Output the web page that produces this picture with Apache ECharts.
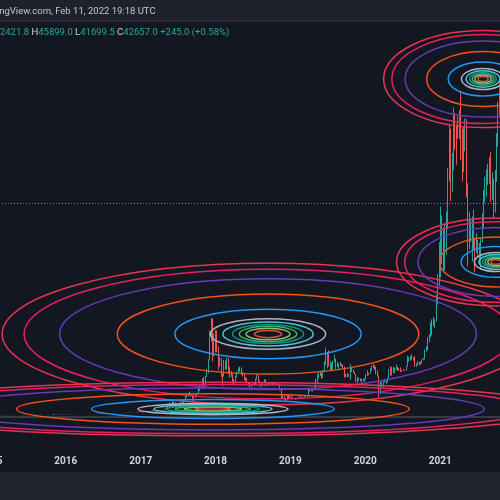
<!DOCTYPE html>
<html><head><meta charset="utf-8">
<script src="https://cdn.jsdelivr.net/npm/echarts@6/dist/echarts.min.js"></script>
<style>html,body{margin:0;padding:0;background:#131722;overflow:hidden;width:500px;height:500px;position:relative;}#c{position:absolute;left:-40px;top:0;width:540px;height:500px;}</style>
</head><body><div id="c"></div>
<script>
// ---- weekly BTCUSD candles: [high, low, close]; open = previous week's close ----
const firstWeek = '2015-01-05';
const firstOpen = 275;
const w2015 = [
[300,255,270],[275,170,210],[310,205,250],[275,212,225],
[245,212,227],[262,215,258],[262,230,245],[280,235,275],
[300,260,275],[297,268,285],[290,255,261],[270,240,247],[262,240,253],
[260,232,236],[238,216,222],[238,218,226],[242,218,240],
[248,225,242],[244,233,237],[244,232,240],[242,225,230],
[232,220,227],[235,222,234],[252,230,245],[252,240,250],[275,245,270],
[315,265,292],[295,270,275],[300,272,290],[298,280,283],
[285,260,263],[270,256,265],[268,195,232],[235,200,227],[240,225,240],
[245,225,230],[235,225,231],[238,226,235],[242,234,240],
[248,236,245],[268,244,263],[285,262,283],[335,280,330],
[500,320,372],[390,300,333],[340,315,325],[372,318,358],[400,350,395],
[465,390,435],[470,425,450],[460,410,420],[440,410,430]];
const w2016 = [
[460,425,448],[450,360,385],[420,350,400],[400,365,378],
[380,365,375],[410,370,405],[445,400,437],[440,405,432],[440,400,410],
[420,400,412],[420,405,410],[420,405,417],[425,410,420],
[425,415,420],[432,420,430],[465,428,460],[468,442,455],
[465,440,460],[465,445,455],[458,435,440],[475,435,470],[585,470,575],
[600,570,590],[780,590,765],[770,550,660],[700,610,675],
[680,615,650],[675,645,665],[680,650,660],[665,620,625],
[625,480,590],[600,575,585],[590,565,580],[590,570,575],[610,565,605],
[630,600,610],[612,600,610],[612,592,605],[616,600,615],
[618,605,615],[642,613,640],[655,630,655],[720,650,700],[740,680,705],
[740,695,700],[755,690,735],[750,725,735],[770,730,765],
[775,755,770],[795,765,790],[935,790,890],[1000,880,1000]];
const w2017 = [
[1150,820,910],[915,760,820],[930,820,920],[930,880,915],[1030,910,1020],
[1070,950,1000],[1060,990,1050],[1200,1040,1180],[1290,1150,1260],
[1330,1000,1230],[1250,960,1020],[1070,890,965],[1100,930,1080],
[1210,1070,1180],[1220,1150,1170],[1260,1170,1250],[1360,1240,1350],
[1600,1340,1550],[1800,1520,1730],[2100,1700,2050],[2800,2000,2200],[2550,2100,2540],
[3000,2450,2960],[2980,2100,2540],[2800,2400,2570],[2600,2300,2500],
[2650,2470,2510],[2550,1850,1930],[2950,1900,2750],[2900,2450,2870],[3300,2650,3240],
[4200,3200,4060],[4480,3800,4080],[4400,3950,4350],[4980,4300,4600],
[4700,4100,4250],[4400,2970,3700],[4100,3600,3780],[4400,3750,4380],
[4620,4200,4610],[5850,4600,5690],[6200,5100,6000],[6200,5500,6140],[7600,6100,7380],
[7900,5500,5950],[8100,5900,8000],[9500,7900,9300],[11400,8600,11300],
[17200,11200,15300],[19700,15000,19100],[19500,11000,14000],[16500,12000,13900]];
const w2018 = [
[17250,12800,16200],[17200,12800,13600],[14000,9200,11500],[11900,10000,11200],[11700,7900,8200],
[8600,6000,8100],[11300,8000,11100],[11200,9300,9600],[11700,9400,11400],
[11700,8400,9600],[9900,7700,8200],[9100,7900,8500],[8500,6600,6900],
[7500,6500,7000],[8200,6600,8000],[9000,7800,8900],[9750,8700,9400],[9950,8900,9650],
[9800,8300,8500],[8900,8000,8250],[8500,7200,7350],[7800,7050,7700],
[7750,6600,6750],[6800,6150,6450],[6850,5800,6150],[6450,5780,6350],
[6800,6250,6750],[6800,6100,6350],[7600,6300,7400],[8500,7300,8200],[8250,6900,7000],
[7150,6000,6300],[6600,5900,6500],[6800,6200,6700],[7400,6700,7200],
[7400,6100,6200],[6600,6150,6500],[6800,6200,6700],[6750,6350,6600],
[6650,6450,6600],[6700,6200,6300],[6900,6300,6400],[6600,6350,6400],[6550,6300,6400],
[6600,6300,6350],[6450,5200,5600],[5650,3650,3900],[4400,3550,4100],
[4200,3300,3500],[3600,3150,3200],[4250,3200,4000],[4250,3600,3850]];
const w2019 = [
[4100,3650,4050],
[4150,3500,3550],[3800,3500,3600],[3650,3450,3550],[3600,3350,3450],
[3700,3400,3650],[3700,3550,3650],[4200,3650,3850],[3950,3700,3850],
[3950,3700,3950],[4000,3800,4000],[4100,3900,4000],[4150,3900,4150],
[5300,4100,5100],[5450,4950,5200],[5400,5000,5300],[5650,5000,5200],[5900,5200,5750],
[7500,5700,7250],[8400,6600,8000],[8900,7500,8700],[9100,8100,8550],
[8700,7450,8000],[9300,7700,8950],[11000,8950,10900],[13800,10300,11000],
[12900,9600,11400],[13200,10000,10300],[11000,9100,10700],[10700,9200,9500],[11100,9400,10800],
[12300,10800,11300],[11500,9500,10300],[10900,9900,10100],[10600,9300,10300],
[10900,10000,10300],[10500,9950,10300],[10400,9650,9950],[10000,7800,8050],[8500,7800,7900],
[8700,7850,8300],[8400,7900,7950],[10500,7300,9250],[9900,8900,9200],
[9450,8700,8800],[8900,8400,8500],[8500,6800,7000],[7850,6550,7450],
[7750,7100,7500],[7600,7050,7100],[7500,6450,7250],[7600,7100,7250]];
const w2020 = [
[7550,6850,7400],
[8450,7350,8190],[9200,8050,8700],[8700,8250,8600],[9600,8550,9350],
[10150,9150,10150],[10500,9700,9900],[10250,9300,9700],[9950,8400,8550],
[9200,8000,8050],[8200,3850,5350],[6900,4450,5800],[6950,5850,5900],[7000,5900,6800],
[7450,6750,6900],[7300,6500,7100],[7750,6800,7700],[9500,7650,8900],
[10050,8100,8750],[9850,8200,9700],[9900,8700,8900],[9750,8650,9450],
[10400,9300,9650],[9950,9150,9350],[9650,9100,9300],[9800,8850,9000],[9300,8950,9100],
[9450,9150,9250],[9300,9050,9150],[10000,9150,9700],[12100,9900,11100],
[11900,10950,11700],[12100,11150,11900],[12450,11350,11650],[11800,11150,11700],[12050,9900,10250],
[10600,9900,10350],[11100,10250,10950],[10950,10150,10750],[10950,10400,10670],
[11450,10550,11350],[11700,11200,11500],[13350,11400,13050],[14000,12950,13750],
[15900,13200,15500],[16450,14800,15950],[18800,15800,18400],[19400,16200,18200],[19900,18100,19150],
[19400,17600,19250],[24300,19000,23850],[28400,22350,26500]];
const w2021 = [
[34800,26100,33000],
[41950,27700,38200],[40100,30400,36000],[37800,28800,32300],[38600,29250,33100],
[40950,32300,38900],[49700,37350,48600],[58300,47000,57500],[57500,43000,45200],
[52650,44950,51200],[61800,49200,59000],[60650,53300,57400],[58400,50300,55800],[60000,55500,58000],
[61200,55450,60000],[64900,51300,56300],[57500,47000,49000],[57950,48800,56600],
[59600,53000,58200],[59500,43800,46400],[46600,30000,34800],[40900,33400,35700],[39500,34800,35800],
[39950,31000,39100],[41300,33400,35600],[35750,28800,34700],[36600,32700,35300],
[35300,32100,34300],[34650,31100,31800],[35500,29300,35400],[40550,34800,39900],
[45300,37500,43800],[47900,42800,47100],[49400,43950,49300],[50500,46300,48900],[51900,46500,51800],
[52950,42800,46100],[48800,43350,47300],[47500,39600,43200],[49250,40750,48200],
[56600,46900,54700],[62900,53900,61500],[67000,59700,60900],[63700,57800,61300],
[63500,59400,63300],[69000,62300,64400]];

const lastClose = 42657;

// ---- Fibonacci circles ----
const fibLevels = [0.236, 0.382, 0.5, 0.618, 0.786, 1, 1.618, 2.618, 3.618, 4.236, 4.618];
const fibColors = ['#f44336','#81c784','#4caf50','#009688','#4fc3d7','#b2b5be','#2196f3','#f4511e','#673ab7','#e91e63','#e8344f'];
const fibCenterDates  = ['2018-09-14', '2017-12-19', '2021-07-29', '2021-09-30'];
const fibCenterPrices = [16470, 1480, 67450, 30870];
const fibRadiusDays   = [281, 366, 105, 105];
const fibRadiusPrices = [3060, 1160, 2100, 1900];

// ---- visible window (x = 0 .. 500 px of the page) ----
const viewStart = '2015-02-14';
const viewEnd = '2021-10-20';
const priceMin = -6517, priceMax = 78852;

const DAY = 86400000;
const ts = s => { const p = s.split('-').map(Number); return Date.UTC(p[0], p[1]-1, p[2]); };
const weeks = [].concat(w2015, w2016, w2017, w2018, w2019, w2020, w2021);
const t0 = ts(firstWeek);
let prev = firstOpen;
const candles = weeks.map((w, i) => { const o = prev; prev = w[2]; return [t0 + i*7*DAY, o, w[2], w[1], w[0]]; });

const fibData = [];
fibCenterDates.forEach((d, s) => {
  fibLevels.forEach((lv, l) => {
    fibData.push([ts(d), fibCenterPrices[s], fibRadiusDays[s]*lv*DAY, fibRadiusPrices[s]*lv, l]);
  });
});

const OFF = 40; // chart canvas starts 40px left of the page
const vs = ts(viewStart), ve = ts(viewEnd);
const xMin = vs - OFF/500*(ve - vs);

const chart = echarts.init(document.getElementById('c'), null, {renderer:'canvas'});
chart.setOption({
  useUTC: true,
  backgroundColor: '#131722',
  animation: false,
  grid: {left: 0, right: 0, top: 22, bottom: 51},
  xAxis: {
    type: 'time', min: xMin, max: ve, splitNumber: 8, minInterval: 365*DAY,
    axisLine: {show: true, lineStyle: {color: '#363a45', width: 2}},
    axisTick: {show: false}, splitLine: {show: false},
    axisLabel: {formatter: '{yyyy}', color: '#d1d4dc', fontSize: 10, fontWeight: 'bold', fontFamily: 'Roboto', margin: 7, showMinLabel: false, showMaxLabel: false}
  },
  yAxis: {type: 'value', min: priceMin, max: priceMax, show: false, splitLine: {show: false}},
  series: [
    {
      type: 'candlestick', data: candles, encode: {x: 0, y: [1, 2, 3, 4]},
      barWidth: 0.8,
      itemStyle: {color: '#26a69a', color0: '#ef5350', borderColor: '#26a69a', borderColor0: '#ef5350', borderWidth: 1},
      markLine: {
        silent: true, symbol: ['none', 'none'], label: {show: false},
        lineStyle: {color: '#26a69a', type: [1, 2], width: 1},
        data: [{yAxis: lastClose}]
      },
      z: 2
    },
    {
      type: 'custom', data: fibData, encode: {x: 0, y: 1}, clip: true, z: 5, silent: true,
      renderItem: (params, api) => {
        const c = api.coord([api.value(0), api.value(1)]);
        const sz = api.size([api.value(2), api.value(3)], [api.value(0), api.value(1)]);
        return {type: 'ellipse', shape: {cx: c[0], cy: c[1], rx: sz[0], ry: sz[1]},
          style: {fill: 'none', stroke: fibColors[api.value(4)], lineWidth: 1.5}};
      }
    }
  ],
  graphic: [
    {type: 'rect', shape: {x: 0, y: 0, width: 540, height: 20}, style: {fill: '#1f222b'}, z: 10},
    {type: 'rect', shape: {x: 0, y: 20, width: 540, height: 1.5}, style: {fill: '#2b2f3a'}, z: 10},
    {type: 'rect', shape: {x: 0, y: 472, width: 540, height: 28}, style: {fill: '#20232c'}, z: 10},
    {type: 'text', x: OFF - 22, y: 12, z: 11, style: {text: 'TradingView.com, Feb 11, 2022 19:18 UTC', fill: '#c3c6ce', font: '9.5px Roboto', verticalAlign: 'middle'}},
    {type: 'text', x: OFF - 12, y: 33, z: 11, style: {
      text: '{l|O}{v|42421.8} {l|H}{v|45899.0} {l|L}{v|41699.5} {l|C}{v|42657.0} {v|+245.0 (+0.58%)}',
      font: '9.5px Roboto', verticalAlign: 'middle',
      rich: {l: {fill: '#d1d4dc', font: '9.5px Roboto'}, v: {fill: '#26a69a', font: '9.5px Roboto'}}}}
  ]
});
</script></body></html>
